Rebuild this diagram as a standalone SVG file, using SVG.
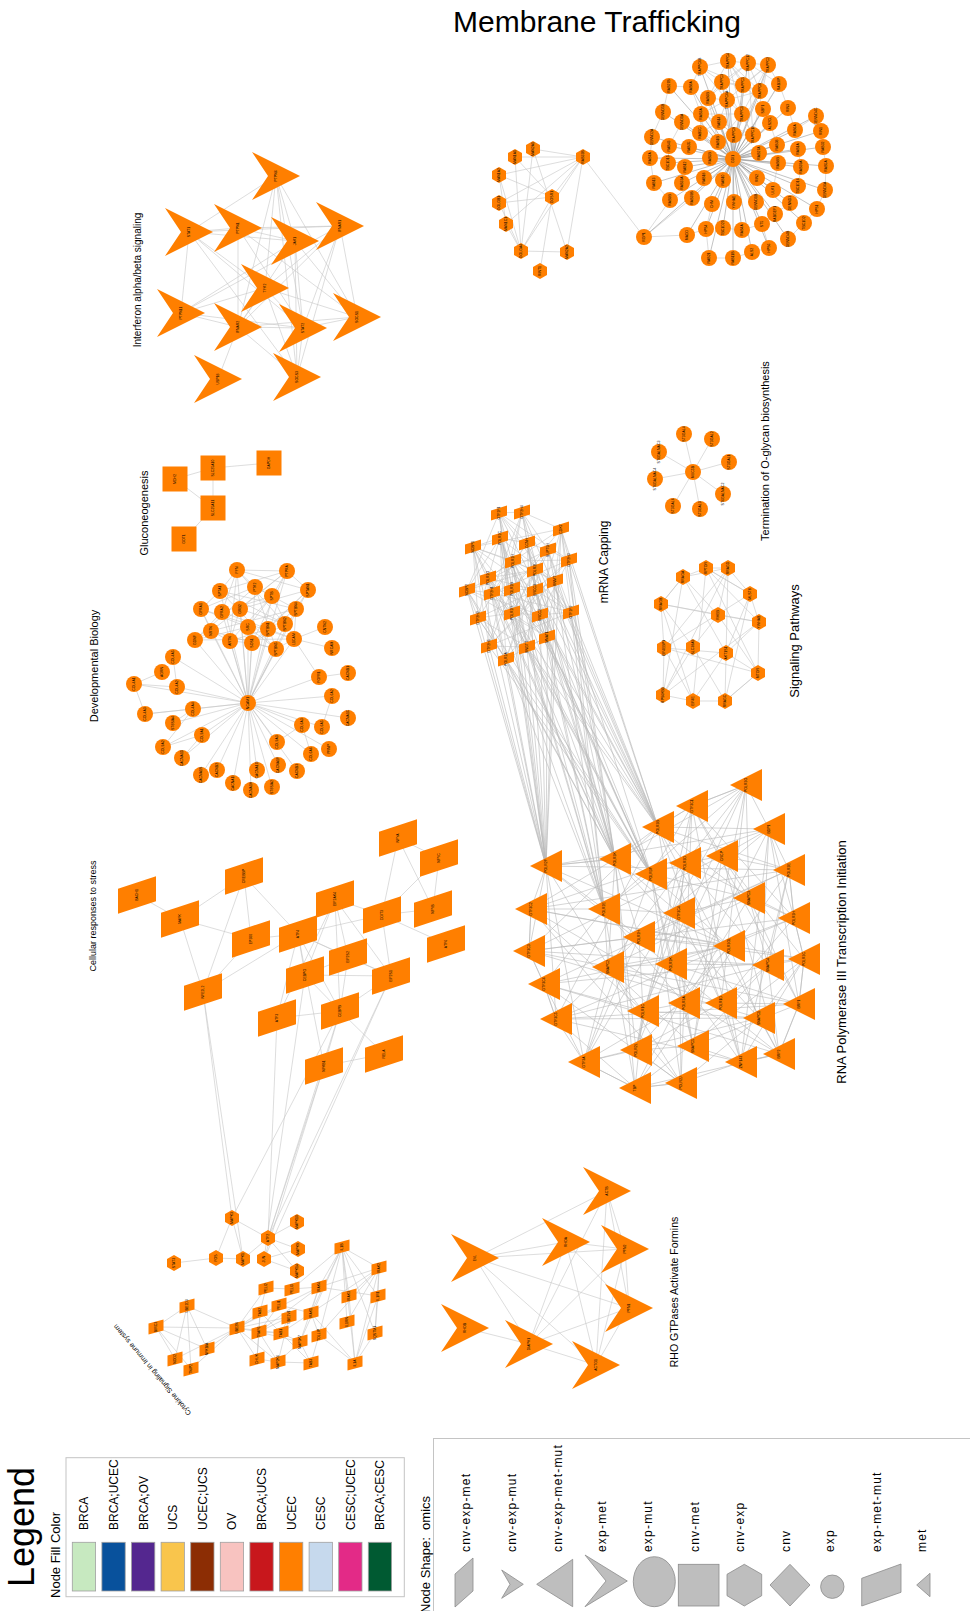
<svg xmlns="http://www.w3.org/2000/svg" width="970" height="1611" viewBox="0 0 970 1611">
<style>
text{font-family:'Liberation Sans',Arial,Helvetica,sans-serif;fill:#000}
.e path{fill:none;stroke:#c6c6c6;stroke-width:0.6}
.e path.d{stroke:#9a9a9a}
.e path.m{stroke:#b8b8b8}
.nd use{fill:#ff7f00}
.nd text{font-size:3.5px;text-anchor:middle;dominant-baseline:central;transform:rotate(-90deg)}
.ttl{text-anchor:middle}
.sh{fill:#bebebe;stroke:#8c8c8c;stroke-width:0.8}
.sl{font-size:12px;letter-spacing:1.2px}
.cl{font-size:12px}
.sw{stroke:#a0a0a0;stroke-width:0.8}
</style>
<defs>
<path id="chev" d="M-24,-24L24,0L-24,24L-8,0Z"/>
<path id="tri" d="M-16,0L16,-16L16,16Z"/>
<path id="hex" d="M0,-8L7,-4L7,4L0,8L-7,4L-7,-4Z"/>
<circle id="cir" r="8"/>
<path id="pgs" d="M-8,-2.5L8,-7.5L8,2.5L-8,7.5Z"/>
<path id="pgl" d="M-19,-6.3L19,-18.7L19,6.3L-19,18.7Z"/>
<path id="pgc" d="M-7.5,-3.5L7.5,-7.5L7.5,3.5L-7.5,7.5Z"/>
<rect id="sq" x="-12.5" y="-12.5" width="25" height="25"/>
</defs>

<text class="ttl" x="597" y="32" font-size="30">Membrane Trafficking</text>

<g id="connectors" class="e">
<path id="e-ifn" d="M276 176L189 232M276 176L295 241M276 176L265 288M276 176L238 327M276 176L303 328M276 176L297 377M276 176L357 317M189 232L238 228M189 232L340 226M189 232L295 241M189 232L181 313M189 232L303 328M189 232L297 377M189 232L265 288M238 228L295 241M238 228L340 226M238 228L238 327M238 228L303 328M238 228L357 317M340 226L265 288M340 226L181 313M340 226L303 328M340 226L297 377M340 226L357 317M340 226L238 327M295 241L238 327M295 241L303 328M295 241L357 317M295 241L181 313M295 241L297 377M265 288L181 313M265 288L303 328M265 288L297 377M265 288L238 327M265 288L357 317M181 313L238 327M181 313L303 328M238 327L303 328M238 327L218 379M238 327L297 377M238 327L357 317M303 328L357 317M303 328L297 377"/>
<path id="e-glu" d="M175 479L213 468L269 463M175 479L213 508L213 468M213 508L184 539"/>
<path id="e-ter" d="M693 472L684 434M693 472L712 439M693 472L729 462M693 472L723 494M693 472L700 509M693 472L673 506M693 472L655 479M693 472L659 452"/>
<path id="e-memhex" d="M583 157L533 149M583 157L515 157M583 157L499 175M583 157L552 197M583 157L499 203M583 157L506 224M583 157L521 251M583 157L567 252M583 157L644 237M533 149L521 251M533 149L567 252M515 157L521 251M515 157L552 197M499 175L552 197M499 175L506 224M552 197L499 203M552 197L521 251M552 197L540 271M499 203L521 251M506 224L521 251M521 251L567 252M499 175L521 251M644 237L687 235M644 237L670 200M644 237L692 198"/>
<path id="e-memhub" class="d" d="M700 67L733 159L728 61M748 63L733 159L768 65M669 86L733 159L691 87M722 82L733 159L743 85M779 84L733 159L708 98M727 100L733 159L760 91M663 112L733 159L682 122M701 114L733 159L719 122M742 114L733 159L763 109M788 108L733 159L816 116M652 137L733 159L700 133M718 142L733 159L734 135M753 135L733 159L770 123M795 130L733 159L821 131M650 158L733 159L669 146M689 147L733 159L710 158M759 153L733 159L777 145M798 149L733 159L823 147M668 163L733 159L685 167M654 183L733 159L682 183M704 178L733 159L723 180M757 178L733 159L778 163M801 167L733 159L826 166M670 200L733 159L692 198M712 204L733 159L734 202M756 202L733 159L773 190M798 186L733 159L825 190M790 203L733 159L775 214M817 209L733 159L804 223M687 235L733 159L706 229M723 228L733 159L742 230M762 224L733 159L788 239M769 248L733 159L752 252M733 258L733 159L709 258M644 237L733 159"/>
<path id="e-memmesh" d="M700 67L728 61L748 63L768 65L760 91L743 85L722 82L708 98L727 100L742 114L753 135L734 135L719 122L701 114L700 133L718 142M700 67L722 82L748 63L760 91L727 100L719 122L734 135L742 114L743 85L728 61L708 98L700 133L719 122L753 135L768 65L743 85M700 67L727 100L768 65L742 114L728 61L760 91L734 135L722 82L753 135L748 63L708 98L718 142L742 114L701 114L727 100M669 86L691 87L700 67M691 87L701 114M669 86L663 112L652 137L650 158L654 183L670 200M682 122L669 146L668 163L685 167M779 84L788 108L795 130M779 84L763 109L770 123L777 145M816 116L821 131L823 147L826 166L825 190L817 209L804 223L788 239M816 116L795 130M798 149L801 167L798 186M778 163L773 190M790 203L775 214L762 224L769 248L752 252L733 258L709 258L706 229L687 235M723 228L742 230L762 224M712 204L706 229M748 63L779 84M768 65L779 84M728 61L763 109M700 67L743 85M722 82L760 91"/>
<path id="e-dev" d="M237 570L248 703L287 571M255 587L248 703L272 596M308 590L248 703L220 591M201 609L248 703L222 612M240 609L248 703L296 609M248 627L248 703L268 629M285 624L248 703L211 631M195 640L248 703L230 641M252 643L248 703L276 649M294 639L248 703L173 657M134 684L248 703L177 687M319 677L248 703L332 696M145 714L248 703L193 709M173 723L248 703L202 735M302 725L248 703L322 727M348 718L248 703L163 747M277 742L248 703L182 758M311 754L248 703L329 749M201 775L248 703L217 770M233 783L248 703L251 790M257 770L248 703L272 787M278 765L248 703L297 771M237 570L308 590L240 609L285 624L252 643L287 571L220 591L296 609L211 631L276 649L255 587L201 609L248 627L195 640L294 639L272 596L222 612L268 629L230 641L237 570M237 570L222 612L195 640L255 587L296 609L252 643L308 590L268 629L294 639L201 609L211 631L287 571L240 609L230 641L272 596L248 627L276 649L220 591L285 624L237 570M237 570L287 571L308 590L296 609L294 639L276 649L252 643L230 641L211 631L195 640M201 609L220 591L237 570L255 587L272 596L287 571M325 627L294 639M332 648L294 639M294 639L319 677M319 677L348 673M332 696L322 727M302 725L311 754M302 725L277 742M134 684L162 672M134 684L177 687M173 657L177 687M134 684L145 714M145 714L193 709M193 709L173 723M202 735L163 747M182 758L202 735M163 747L193 709"/>
<path id="e-mrna" d="M499 513L527 543L535 570L555 581L489 646L522 512L548 550L467 590L478 618L527 647L561 529L569 560L492 593L512 613L547 637L473 547L513 561L512 589L540 615L506 659L500 538L488 578L535 590L571 612L499 513M499 513L569 560L535 590L527 647L500 538L467 590L540 615L522 512L513 561L555 581L547 637L527 543L492 593L571 612L561 529L488 578L478 618L506 659L548 550L512 589L489 646L473 547L535 570L512 613L499 513M499 513L467 590L547 637L488 578L489 646L569 560L540 615L527 543L478 618L473 547L535 590L522 512L492 593L506 659L535 570L527 647L513 561L571 612L548 550L512 613L500 538L555 581L561 529L512 589L499 513M499 513L522 512L561 529L473 547L500 538L527 543L548 550L569 560L513 561L488 578L535 570L467 590L492 593L512 589L535 590L555 581L478 618L512 613L540 615L571 612L489 646L527 647L547 637L506 659"/>
<path id="e-mrna-pol3" class="m" d="M499 513L546 866L561 529M473 547L546 866L527 543M513 561L546 866L488 578M467 590L546 866L512 589M555 581L546 866L478 618M540 615L546 866L489 646M527 647L546 866L506 659M522 512L615 859L561 529M500 538L615 859L548 550M569 560L615 859L535 570M492 593L615 859L535 590M512 613L615 859L571 612M547 637L615 859L506 659M499 513L658 827L522 512M561 529L658 827L527 543M569 560L658 827L535 570M512 589L658 827L555 581M540 615L658 827L571 612M527 647L658 827M473 547L651 874L500 538M548 550L651 874L513 561M488 578L651 874L467 590M535 590L651 874L478 618M512 613L651 874L489 646M547 637L651 874M499 513L604 909L527 543M569 560L604 909L492 593M512 589L604 909L555 581M540 615L604 909L571 612M527 647L604 909L506 659M473 547L615 859L467 590M513 561L658 827L488 578M500 538L546 866L548 550"/>
<path id="e-sig" d="M683 577L661 604L759 622L726 653L693 701L706 568L750 594L664 648L758 673L725 701L728 568L718 615L693 647L663 695L683 577M683 577L718 615L758 673L706 568L759 622L663 695L728 568L664 648L693 701L661 604L693 647L725 701L750 594L726 653L683 577M683 577L706 568L728 568L750 594L759 622L758 673L725 701L693 701L663 695L664 648L661 604L683 577M683 577L728 568M706 568L750 594M661 604L718 615L759 622M664 648L726 653L758 673"/>
<path id="e-stress" d="M137 895L180 919L244 876M180 919L251 939M180 919L203 992M244 876L251 939M244 876L298 934M244 876L203 992M251 939L298 934M251 939L203 992M298 934L203 992M298 934L382 915M298 934L305 975M298 934L340 1011M298 934L277 1018M298 934L348 957M298 934L391 976M298 934L324 1066M335 899L382 915M335 899L348 957M335 899L391 976M335 899L305 975M335 899L340 1011M335 899L277 1018M382 915L398 838M382 915L433 909M382 915L439 858M382 915L446 944M382 915L391 976M398 838L439 858M398 838L433 909M439 858L433 909M305 975L348 957M305 975L340 1011M305 975L391 976M340 1011L277 1018M340 1011L391 976M340 1011L384 1054M340 1011L324 1066M324 1066L384 1054M348 957L391 976M348 957L340 1011"/>
<path id="e-stress-cyto" d="M203 992L232 1218M203 992L243 1259M340 1011L232 1218M277 1018L268 1238M305 975L264 1259M340 1011L268 1238M324 1066L268 1238M324 1066L264 1259M391 976L268 1238M391 976L264 1259"/>
<path id="e-pol3" class="m" d="M746 785L615 859L531 909L529 951L768 965L721 1003L636 1050L681 1083L546 866L789 870L794 918L671 964L684 1003L584 1062L635 1088L769 829L722 856L749 898L608 967L643 1011L759 1018L779 1054L658 827L685 863L679 913L729 946L544 984L556 1019L741 1062L692 806L651 874L604 909L639 937L804 959L799 1004L693 1046L746 785M746 785L685 863L794 918L804 959L759 1018L681 1083L651 874L749 898L768 965L556 1019L635 1088L615 859L679 913L671 964L799 1004L779 1054L546 866L604 909L608 967L721 1003L741 1062L769 829L531 909L729 946L684 1003L693 1046L658 827L789 870L639 937L643 1011L636 1050L692 806L722 856L529 951L544 984L584 1062L746 785M746 785L604 909L544 984L779 1054L722 856L671 964L636 1050L615 859L639 937L556 1019L658 827L749 898L684 1003L681 1083L531 909L804 959L741 1062L685 863L608 967L584 1062L546 866L529 951L799 1004L692 806L679 913L643 1011L635 1088L789 870L768 965L693 1046L651 874L729 946L759 1018L769 829L794 918L721 1003L746 785M746 785L749 898L799 1004L769 829L639 937L584 1062L651 874L671 964L741 1062L789 870L544 984L681 1083L679 913L721 1003L658 827L529 951L759 1018L615 859L608 967L693 1046L722 856L804 959L635 1088L604 909L684 1003L692 806L794 918L556 1019L546 866L729 946L636 1050L685 863L768 965L779 1054L531 909L643 1011L746 785M746 785L692 806L658 827L769 829L546 866L615 859L651 874L685 863L722 856L789 870L531 909L604 909L679 913L749 898L794 918L529 951L639 937L729 946L608 967L671 964L768 965L804 959L544 984L643 1011L684 1003L721 1003L799 1004L556 1019L759 1018L584 1062L636 1050L693 1046L741 1062L779 1054L635 1088L681 1083M746 785L769 829L789 870L794 918L804 959L799 1004L779 1054L741 1062L681 1083L635 1088L584 1062L556 1019L544 984L529 951L531 909L546 866L615 859L658 827L692 806L746 785"/>
<path id="e-cyto" d="M187 1306L156 1327L175 1359M187 1306L175 1359M187 1306L191 1369M187 1306L207 1349M187 1306L237 1328M156 1327L191 1369M156 1327L207 1349M156 1327L237 1328M207 1349L237 1328M175 1359L237 1328M191 1369L237 1328M237 1328L260 1312M237 1328L259 1332M237 1328L266 1288M237 1328L279 1305M237 1328L257 1359M237 1328L319 1287M237 1328L281 1333M237 1328L278 1362M237 1328L289 1317M342 1247L319 1287M342 1247L311 1313M342 1247L349 1296M342 1247L378 1296M342 1247L347 1322M342 1247L379 1268M342 1247L355 1363M342 1247L375 1333M342 1247L319 1335M342 1247L300 1342M342 1247L292 1289M379 1268L349 1296M379 1268L378 1296M379 1268L375 1333M379 1268L355 1363M379 1268L347 1322M379 1268L319 1287M379 1268L319 1335M379 1268L311 1313M378 1296L375 1333M378 1296L355 1363M378 1296L319 1287M355 1363L349 1296M355 1363L311 1313M355 1363L319 1335M355 1363L375 1333M266 1288L292 1289L319 1287M266 1288L260 1312M279 1305L311 1313M260 1312L281 1333M260 1312L259 1332M259 1332L281 1333M259 1332L300 1342M259 1332L257 1359M259 1332L278 1362M281 1333L300 1342M281 1333L311 1363M300 1342L311 1363M300 1342L278 1362M257 1359L278 1362M278 1362L311 1363M319 1287L311 1313M311 1313L319 1335M311 1313L281 1333M319 1335L311 1363M319 1287L259 1332M279 1305L259 1332M289 1317L259 1332M289 1317L281 1333M289 1317L278 1362M257 1359L260 1312M319 1287L300 1342M232 1218L268 1238M232 1218L216 1258M232 1218L243 1259M268 1238L297 1222M268 1238L298 1249M268 1238L297 1271M268 1238L243 1259M264 1259L298 1249M264 1259L297 1271M174 1263L216 1258L243 1259"/>
<path id="e-rho" d="M475 1258L607 1191M475 1258L566 1242M475 1258L625 1249M475 1258L629 1308M475 1258L529 1344M475 1258L596 1365M566 1242L625 1249M566 1242L529 1344M566 1242L596 1365M566 1242L629 1308M607 1191L625 1249M607 1191L629 1308M607 1191L529 1344M607 1191L596 1365M625 1249L629 1308M625 1249L529 1344M625 1249L596 1365M629 1308L529 1344M629 1308L596 1365M465 1328L529 1344L596 1365"/>
</g>

<g id="cluster-interferon" class="nd">
<g id="ifn-PTPN6" transform="translate(276,176)"><use href="#chev"/><text>PTPN6</text></g>
<g id="ifn-STAT1" transform="translate(189,232)"><use href="#chev"/><text>STAT1</text></g>
<g id="ifn-PTPN1" transform="translate(238,228)"><use href="#chev"/><text>PTPN1</text></g>
<g id="ifn-IFNAR1" transform="translate(340,226)"><use href="#chev"/><text>IFNAR1</text></g>
<g id="ifn-JAK1" transform="translate(295,241)"><use href="#chev"/><text>JAK1</text></g>
<g id="ifn-TYK2" transform="translate(265,288)"><use href="#chev"/><text>TYK2</text></g>
<g id="ifn-PTPN11" transform="translate(181,313)"><use href="#chev"/><text>PTPN11</text></g>
<g id="ifn-IFNAR2" transform="translate(238,327)"><use href="#chev"/><text>IFNAR2</text></g>
<g id="ifn-STAT2" transform="translate(303,328)"><use href="#chev"/><text>STAT2</text></g>
<g id="ifn-SOCS1" transform="translate(357,317)"><use href="#chev"/><text>SOCS1</text></g>
<g id="ifn-USP18" transform="translate(218,379)"><use href="#chev"/><text>USP18</text></g>
<g id="ifn-SOCS3" transform="translate(297,377)"><use href="#chev"/><text>SOCS3</text></g>
</g>

<g id="cluster-gluconeogenesis" class="nd">
<g id="glu-MDH2" transform="translate(175,479)"><use href="#sq"/><text>MDH2</text></g>
<g id="glu-SLC25A10" transform="translate(213,468)"><use href="#sq"/><text>SLC25A10</text></g>
<g id="glu-GAPDH" transform="translate(269,463)"><use href="#sq"/><text>GAPDH</text></g>
<g id="glu-SLC25A11" transform="translate(213,508)"><use href="#sq"/><text>SLC25A11</text></g>
<g id="glu-GOT1" transform="translate(184,539)"><use href="#sq"/><text>GOT1</text></g>
</g>

<g id="cluster-termination" class="nd">
<g id="ter-MUC5B" transform="translate(693,472)"><use href="#cir"/><text>MUC5B</text></g>
<g id="ter-ST3GAL4" transform="translate(684,434)"><use href="#cir"/><text>ST3GAL4</text></g>
<g id="ter-ST3GAL2" transform="translate(712,439)"><use href="#cir"/><text>ST3GAL2</text></g>
<g id="ter-ST3GAL1" transform="translate(729,462)"><use href="#cir"/><text>ST3GAL1</text></g>
<g id="ter-ST6GALNAC2" transform="translate(723,494)"><use href="#cir"/><text>ST6GALNAC2</text></g>
<g id="ter-ST3GAL3" transform="translate(700,509)"><use href="#cir"/><text>ST3GAL3</text></g>
<g id="ter-ST3GAL6" transform="translate(673,506)"><use href="#cir"/><text>ST3GAL6</text></g>
<g id="ter-ST6GALNAC4" transform="translate(655,479)"><use href="#cir"/><text>ST6GALNAC4</text></g>
<g id="ter-ST6GALNAC3" transform="translate(659,452)"><use href="#cir"/><text>ST6GALNAC3</text></g>
</g>

<g id="cluster-membrane" class="nd">
<g id="mem-RAB33B" transform="translate(583,157)"><use href="#hex"/><text>RAB33B</text></g>
<g id="mem-MAN2A1" transform="translate(533,149)"><use href="#hex"/><text>MAN2A1</text></g>
<g id="mem-MAN1A1" transform="translate(515,157)"><use href="#hex"/><text>MAN1A1</text></g>
<g id="mem-MAN1A2" transform="translate(499,175)"><use href="#hex"/><text>MAN1A2</text></g>
<g id="mem-GOSR1" transform="translate(552,197)"><use href="#hex"/><text>GOSR1</text></g>
<g id="mem-GOLGB1" transform="translate(499,203)"><use href="#hex"/><text>GOLGB1</text></g>
<g id="mem-MAN1C1" transform="translate(506,224)"><use href="#hex"/><text>MAN1C1</text></g>
<g id="mem-GOLGA4" transform="translate(521,251)"><use href="#hex"/><text>GOLGA4</text></g>
<g id="mem-MAN2A2" transform="translate(567,252)"><use href="#hex"/><text>MAN2A2</text></g>
<g id="mem-RINT1" transform="translate(540,271)"><use href="#hex"/><text>RINT1</text></g>
<g id="mem-TRAPPC6B" transform="translate(700,67)"><use href="#cir"/><text>TRAPPC6B</text></g>
<g id="mem-TRAPPC4" transform="translate(728,61)"><use href="#cir"/><text>TRAPPC4</text></g>
<g id="mem-TRAPPC12" transform="translate(748,63)"><use href="#cir"/><text>TRAPPC12</text></g>
<g id="mem-TRAPPC2" transform="translate(768,65)"><use href="#cir"/><text>TRAPPC2</text></g>
<g id="mem-RAB27B" transform="translate(669,86)"><use href="#cir"/><text>RAB27B</text></g>
<g id="mem-RAB8A" transform="translate(691,87)"><use href="#cir"/><text>RAB8A</text></g>
<g id="mem-TRAPPC3" transform="translate(722,82)"><use href="#cir"/><text>TRAPPC3</text></g>
<g id="mem-TRAPPC5" transform="translate(743,85)"><use href="#cir"/><text>TRAPPC5</text></g>
<g id="mem-RAB3IP" transform="translate(779,84)"><use href="#cir"/><text>RAB3IP</text></g>
<g id="mem-RAB6B" transform="translate(708,98)"><use href="#cir"/><text>RAB6B</text></g>
<g id="mem-TRAPPC6A" transform="translate(727,100)"><use href="#cir"/><text>TRAPPC6A</text></g>
<g id="mem-TRAPPC8" transform="translate(760,91)"><use href="#cir"/><text>TRAPPC8</text></g>
<g id="mem-DENND5B" transform="translate(663,112)"><use href="#cir"/><text>DENND5B</text></g>
<g id="mem-DENND1A" transform="translate(682,122)"><use href="#cir"/><text>DENND1A</text></g>
<g id="mem-RAB3A" transform="translate(701,114)"><use href="#cir"/><text>RAB3A</text></g>
<g id="mem-RAB14" transform="translate(719,122)"><use href="#cir"/><text>RAB14</text></g>
<g id="mem-TRAPPC1" transform="translate(742,114)"><use href="#cir"/><text>TRAPPC1</text></g>
<g id="mem-SBF1" transform="translate(763,109)"><use href="#cir"/><text>SBF1</text></g>
<g id="mem-RIN3" transform="translate(788,108)"><use href="#cir"/><text>RIN3</text></g>
<g id="mem-DENND4C" transform="translate(816,116)"><use href="#cir"/><text>DENND4C</text></g>
<g id="mem-DENND2A" transform="translate(652,137)"><use href="#cir"/><text>DENND2A</text></g>
<g id="mem-RAB5C" transform="translate(700,133)"><use href="#cir"/><text>RAB5C</text></g>
<g id="mem-RAB1B" transform="translate(718,142)"><use href="#cir"/><text>RAB1B</text></g>
<g id="mem-TRAPPC9" transform="translate(734,135)"><use href="#cir"/><text>TRAPPC9</text></g>
<g id="mem-TRAPPC10" transform="translate(753,135)"><use href="#cir"/><text>TRAPPC10</text></g>
<g id="mem-ALS2CL" transform="translate(770,123)"><use href="#cir"/><text>ALS2CL</text></g>
<g id="mem-RAB6A" transform="translate(795,130)"><use href="#cir"/><text>RAB6A</text></g>
<g id="mem-RIN1" transform="translate(821,131)"><use href="#cir"/><text>RIN1</text></g>
<g id="mem-RAB7A" transform="translate(650,158)"><use href="#cir"/><text>RAB7A</text></g>
<g id="mem-RAB43" transform="translate(669,146)"><use href="#cir"/><text>RAB43</text></g>
<g id="mem-RAB35" transform="translate(689,147)"><use href="#cir"/><text>RAB35</text></g>
<g id="mem-RAB5B" transform="translate(710,158)"><use href="#cir"/><text>RAB5B</text></g>
<g id="mem-GDI1" transform="translate(733,159)"><use href="#cir"/><text>GDI1</text></g>
<g id="mem-RAB27A" transform="translate(759,153)"><use href="#cir"/><text>RAB27A</text></g>
<g id="mem-RAB38" transform="translate(777,145)"><use href="#cir"/><text>RAB38</text></g>
<g id="mem-RAB1A" transform="translate(798,149)"><use href="#cir"/><text>RAB1A</text></g>
<g id="mem-RAB32" transform="translate(823,147)"><use href="#cir"/><text>RAB32</text></g>
<g id="mem-TBC1D15" transform="translate(668,163)"><use href="#cir"/><text>TBC1D15</text></g>
<g id="mem-RAB12" transform="translate(685,167)"><use href="#cir"/><text>RAB12</text></g>
<g id="mem-RAB13" transform="translate(654,183)"><use href="#cir"/><text>RAB13</text></g>
<g id="mem-RAB33A" transform="translate(682,183)"><use href="#cir"/><text>RAB33A</text></g>
<g id="mem-RAB18" transform="translate(704,178)"><use href="#cir"/><text>RAB18</text></g>
<g id="mem-RAB10" transform="translate(723,180)"><use href="#cir"/><text>RAB10</text></g>
<g id="mem-RIN2" transform="translate(757,178)"><use href="#cir"/><text>RIN2</text></g>
<g id="mem-RAB8B" transform="translate(778,163)"><use href="#cir"/><text>RAB8B</text></g>
<g id="mem-RAB39A" transform="translate(801,167)"><use href="#cir"/><text>RAB39A</text></g>
<g id="mem-RAB5A" transform="translate(826,166)"><use href="#cir"/><text>RAB5A</text></g>
<g id="mem-RAB9B" transform="translate(670,200)"><use href="#cir"/><text>RAB9B</text></g>
<g id="mem-RAB39B" transform="translate(692,198)"><use href="#cir"/><text>RAB39B</text></g>
<g id="mem-CHM" transform="translate(712,204)"><use href="#cir"/><text>CHM</text></g>
<g id="mem-YWHAE" transform="translate(734,202)"><use href="#cir"/><text>YWHAE</text></g>
<g id="mem-DENND1B" transform="translate(756,202)"><use href="#cir"/><text>DENND1B</text></g>
<g id="mem-ULK1" transform="translate(773,190)"><use href="#cir"/><text>ULK1</text></g>
<g id="mem-TBC1D16" transform="translate(798,186)"><use href="#cir"/><text>TBC1D16</text></g>
<g id="mem-DENND6A" transform="translate(825,190)"><use href="#cir"/><text>DENND6A</text></g>
<g id="mem-DENND3" transform="translate(790,203)"><use href="#cir"/><text>DENND3</text></g>
<g id="mem-RABGEF1" transform="translate(775,214)"><use href="#cir"/><text>RABGEF1</text></g>
<g id="mem-HPS1" transform="translate(817,209)"><use href="#cir"/><text>HPS1</text></g>
<g id="mem-TBC1D2" transform="translate(804,223)"><use href="#cir"/><text>TBC1D2</text></g>
<g id="mem-MADD" transform="translate(687,235)"><use href="#cir"/><text>MADD</text></g>
<g id="mem-HPS4" transform="translate(706,229)"><use href="#cir"/><text>HPS4</text></g>
<g id="mem-TBC1D20" transform="translate(723,228)"><use href="#cir"/><text>TBC1D20</text></g>
<g id="mem-RAB4A" transform="translate(742,230)"><use href="#cir"/><text>RAB4A</text></g>
<g id="mem-ST5" transform="translate(762,224)"><use href="#cir"/><text>ST5</text></g>
<g id="mem-DENND4B" transform="translate(788,239)"><use href="#cir"/><text>DENND4B</text></g>
<g id="mem-HPS6" transform="translate(769,248)"><use href="#cir"/><text>HPS6</text></g>
<g id="mem-ALS2" transform="translate(752,252)"><use href="#cir"/><text>ALS2</text></g>
<g id="mem-RAB11B" transform="translate(733,258)"><use href="#cir"/><text>RAB11B</text></g>
<g id="mem-RAB21" transform="translate(709,258)"><use href="#cir"/><text>RAB21</text></g>
<g id="mem-RGP1" transform="translate(644,237)"><use href="#cir"/><text>RGP1</text></g>
</g>

<g id="cluster-developmental" class="nd">
<g id="dev-FYN" transform="translate(237,570)"><use href="#cir"/><text>FYN</text></g>
<g id="dev-PTPRA" transform="translate(287,571)"><use href="#cir"/><text>PTPRA</text></g>
<g id="dev-PTK2" transform="translate(255,587)"><use href="#cir"/><text>PTK2</text></g>
<g id="dev-SPTB" transform="translate(272,596)"><use href="#cir"/><text>SPTB</text></g>
<g id="dev-SPTAN1" transform="translate(308,590)"><use href="#cir"/><text>SPTAN1</text></g>
<g id="dev-SPTA1" transform="translate(220,591)"><use href="#cir"/><text>SPTA1</text></g>
<g id="dev-GFRA1" transform="translate(201,609)"><use href="#cir"/><text>GFRA1</text></g>
<g id="dev-GFRA2" transform="translate(222,612)"><use href="#cir"/><text>GFRA2</text></g>
<g id="dev-GRB2" transform="translate(240,609)"><use href="#cir"/><text>GRB2</text></g>
<g id="dev-SPTBN4" transform="translate(296,609)"><use href="#cir"/><text>SPTBN4</text></g>
<g id="dev-SRC" transform="translate(248,627)"><use href="#cir"/><text>SRC</text></g>
<g id="dev-SPTBN1" transform="translate(268,629)"><use href="#cir"/><text>SPTBN1</text></g>
<g id="dev-SPTBN2" transform="translate(285,624)"><use href="#cir"/><text>SPTBN2</text></g>
<g id="dev-CNTN2" transform="translate(325,627)"><use href="#cir"/><text>CNTN2</text></g>
<g id="dev-NRTN" transform="translate(211,631)"><use href="#cir"/><text>NRTN</text></g>
<g id="dev-GDNF" transform="translate(195,640)"><use href="#cir"/><text>GDNF</text></g>
<g id="dev-ARTN" transform="translate(230,641)"><use href="#cir"/><text>ARTN</text></g>
<g id="dev-SOS1" transform="translate(252,643)"><use href="#cir"/><text>SOS1</text></g>
<g id="dev-SPTBN5" transform="translate(276,649)"><use href="#cir"/><text>SPTBN5</text></g>
<g id="dev-L1CAM" transform="translate(294,639)"><use href="#cir"/><text>L1CAM</text></g>
<g id="dev-NRCAM" transform="translate(332,648)"><use href="#cir"/><text>NRCAM</text></g>
<g id="dev-COL4A5" transform="translate(173,657)"><use href="#cir"/><text>COL4A5</text></g>
<g id="dev-AGRN" transform="translate(162,672)"><use href="#cir"/><text>AGRN</text></g>
<g id="dev-COL4A1" transform="translate(134,684)"><use href="#cir"/><text>COL4A1</text></g>
<g id="dev-COL4A2" transform="translate(177,687)"><use href="#cir"/><text>COL4A2</text></g>
<g id="dev-NCAM1" transform="translate(248,703)"><use href="#cir"/><text>NCAM1</text></g>
<g id="dev-FGFR1" transform="translate(319,677)"><use href="#cir"/><text>FGFR1</text></g>
<g id="dev-CACNB1" transform="translate(348,673)"><use href="#cir"/><text>CACNB1</text></g>
<g id="dev-COL6A2" transform="translate(332,696)"><use href="#cir"/><text>COL6A2</text></g>
<g id="dev-COL4A3" transform="translate(145,714)"><use href="#cir"/><text>COL4A3</text></g>
<g id="dev-COL4A4" transform="translate(193,709)"><use href="#cir"/><text>COL4A4</text></g>
<g id="dev-ST8SIA4" transform="translate(173,723)"><use href="#cir"/><text>ST8SIA4</text></g>
<g id="dev-COL9A1" transform="translate(202,735)"><use href="#cir"/><text>COL9A1</text></g>
<g id="dev-COL6A3" transform="translate(302,725)"><use href="#cir"/><text>COL6A3</text></g>
<g id="dev-COL6A5" transform="translate(322,727)"><use href="#cir"/><text>COL6A5</text></g>
<g id="dev-CACNA1C" transform="translate(348,718)"><use href="#cir"/><text>CACNA1C</text></g>
<g id="dev-COL9A2" transform="translate(163,747)"><use href="#cir"/><text>COL9A2</text></g>
<g id="dev-COL9A3" transform="translate(277,742)"><use href="#cir"/><text>COL9A3</text></g>
<g id="dev-CACNA1D" transform="translate(182,758)"><use href="#cir"/><text>CACNA1D</text></g>
<g id="dev-COL6A6" transform="translate(311,754)"><use href="#cir"/><text>COL6A6</text></g>
<g id="dev-PRNP" transform="translate(329,749)"><use href="#cir"/><text>PRNP</text></g>
<g id="dev-CACNA1S" transform="translate(201,775)"><use href="#cir"/><text>CACNA1S</text></g>
<g id="dev-CACNB2" transform="translate(217,770)"><use href="#cir"/><text>CACNB2</text></g>
<g id="dev-CACNA1I" transform="translate(233,783)"><use href="#cir"/><text>CACNA1I</text></g>
<g id="dev-CACNA1H" transform="translate(251,790)"><use href="#cir"/><text>CACNA1H</text></g>
<g id="dev-CACNA1G" transform="translate(257,770)"><use href="#cir"/><text>CACNA1G</text></g>
<g id="dev-ST8SIA2" transform="translate(272,787)"><use href="#cir"/><text>ST8SIA2</text></g>
<g id="dev-CACNA1F" transform="translate(278,765)"><use href="#cir"/><text>CACNA1F</text></g>
<g id="dev-CACNB3" transform="translate(297,771)"><use href="#cir"/><text>CACNB3</text></g>
</g>

<g id="cluster-mrna" class="nd">
<g id="mc-GTF2F1" transform="translate(499,513)"><use href="#pgs"/><text>GTF2F1</text></g>
<g id="mc-GTF2H4" transform="translate(522,512)"><use href="#pgs"/><text>GTF2H4</text></g>
<g id="mc-CDK7" transform="translate(561,529)"><use href="#pgs"/><text>CDK7</text></g>
<g id="mc-NCBP1" transform="translate(473,547)"><use href="#pgs"/><text>NCBP1</text></g>
<g id="mc-POLR2C" transform="translate(500,538)"><use href="#pgs"/><text>POLR2C</text></g>
<g id="mc-CCNH" transform="translate(527,543)"><use href="#pgs"/><text>CCNH</text></g>
<g id="mc-SUPT5H" transform="translate(548,550)"><use href="#pgs"/><text>SUPT5H</text></g>
<g id="mc-GTF2H3" transform="translate(569,560)"><use href="#pgs"/><text>GTF2H3</text></g>
<g id="mc-POLR2H" transform="translate(513,561)"><use href="#pgs"/><text>POLR2H</text></g>
<g id="mc-POLR2G" transform="translate(488,578)"><use href="#pgs"/><text>POLR2G</text></g>
<g id="mc-POLR2I" transform="translate(535,570)"><use href="#pgs"/><text>POLR2I</text></g>
<g id="mc-NCBP2" transform="translate(467,590)"><use href="#pgs"/><text>NCBP2</text></g>
<g id="mc-GTF2H1" transform="translate(492,593)"><use href="#pgs"/><text>GTF2H1</text></g>
<g id="mc-POLR2B" transform="translate(512,589)"><use href="#pgs"/><text>POLR2B</text></g>
<g id="mc-ERCC3" transform="translate(535,590)"><use href="#pgs"/><text>ERCC3</text></g>
<g id="mc-RNMT" transform="translate(555,581)"><use href="#pgs"/><text>RNMT</text></g>
<g id="mc-GTF2H2" transform="translate(478,618)"><use href="#pgs"/><text>GTF2H2</text></g>
<g id="mc-POLR2D" transform="translate(512,613)"><use href="#pgs"/><text>POLR2D</text></g>
<g id="mc-ERCC2" transform="translate(540,615)"><use href="#pgs"/><text>ERCC2</text></g>
<g id="mc-GTF2F2" transform="translate(571,612)"><use href="#pgs"/><text>GTF2F2</text></g>
<g id="mc-GTF2H5" transform="translate(489,646)"><use href="#pgs"/><text>GTF2H5</text></g>
<g id="mc-RNGTT" transform="translate(527,647)"><use href="#pgs"/><text>RNGTT</text></g>
<g id="mc-MNAT1" transform="translate(547,637)"><use href="#pgs"/><text>MNAT1</text></g>
<g id="mc-POLR2A" transform="translate(506,659)"><use href="#pgs"/><text>POLR2A</text></g>
</g>

<g id="cluster-signaling" class="nd">
<g id="sig-RRAGA" transform="translate(683,577)"><use href="#hex"/><text>RRAGA</text></g>
<g id="sig-RPTOR" transform="translate(706,568)"><use href="#hex"/><text>RPTOR</text></g>
<g id="sig-RRAGD" transform="translate(728,568)"><use href="#hex"/><text>RRAGD</text></g>
<g id="sig-RRAGB" transform="translate(661,604)"><use href="#hex"/><text>RRAGB</text></g>
<g id="sig-MLST8" transform="translate(750,594)"><use href="#hex"/><text>MLST8</text></g>
<g id="sig-RHEB" transform="translate(718,615)"><use href="#hex"/><text>RHEB</text></g>
<g id="sig-YWHAB" transform="translate(759,622)"><use href="#hex"/><text>YWHAB</text></g>
<g id="sig-EIF4EBP1" transform="translate(664,648)"><use href="#hex"/><text>EIF4EBP1</text></g>
<g id="sig-SLC38A9" transform="translate(693,647)"><use href="#hex"/><text>SLC38A9</text></g>
<g id="sig-AKT1S1" transform="translate(726,653)"><use href="#hex"/><text>AKT1S1</text></g>
<g id="sig-MTOR" transform="translate(758,673)"><use href="#hex"/><text>MTOR</text></g>
<g id="sig-RPS6KB1" transform="translate(663,695)"><use href="#hex"/><text>RPS6KB1</text></g>
<g id="sig-EIF4E" transform="translate(693,701)"><use href="#hex"/><text>EIF4E</text></g>
<g id="sig-RRAGC" transform="translate(725,701)"><use href="#hex"/><text>RRAGC</text></g>
</g>

<g id="cluster-stress" class="nd">
<g id="st-BACH1" transform="translate(137,895)"><use href="#pgl"/><text>BACH1</text></g>
<g id="st-CREBBP" transform="translate(244,876)"><use href="#pgl"/><text>CREBBP</text></g>
<g id="st-MAFK" transform="translate(180,919)"><use href="#pgl"/><text>MAFK</text></g>
<g id="st-EP300" transform="translate(251,939)"><use href="#pgl"/><text>EP300</text></g>
<g id="st-ATF4" transform="translate(298,934)"><use href="#pgl"/><text>ATF4</text></g>
<g id="st-EIF2AK4" transform="translate(335,899)"><use href="#pgl"/><text>EIF2AK4</text></g>
<g id="st-DDIT3" transform="translate(382,915)"><use href="#pgl"/><text>DDIT3</text></g>
<g id="st-NFYA" transform="translate(398,838)"><use href="#pgl"/><text>NFYA</text></g>
<g id="st-NFYC" transform="translate(439,858)"><use href="#pgl"/><text>NFYC</text></g>
<g id="st-NFYB" transform="translate(433,909)"><use href="#pgl"/><text>NFYB</text></g>
<g id="st-ATF6" transform="translate(446,944)"><use href="#pgl"/><text>ATF6</text></g>
<g id="st-NFE2L2" transform="translate(203,992)"><use href="#pgl"/><text>NFE2L2</text></g>
<g id="st-CEBPG" transform="translate(305,975)"><use href="#pgl"/><text>CEBPG</text></g>
<g id="st-EIF2S2" transform="translate(348,957)"><use href="#pgl"/><text>EIF2S2</text></g>
<g id="st-EIF2S1" transform="translate(391,976)"><use href="#pgl"/><text>EIF2S1</text></g>
<g id="st-ATF3" transform="translate(277,1018)"><use href="#pgl"/><text>ATF3</text></g>
<g id="st-CEBPB" transform="translate(340,1011)"><use href="#pgl"/><text>CEBPB</text></g>
<g id="st-NFKB1" transform="translate(324,1066)"><use href="#pgl"/><text>NFKB1</text></g>
<g id="st-RELA" transform="translate(384,1054)"><use href="#pgl"/><text>RELA</text></g>
</g>

<g id="cluster-pol3" class="nd">
<g id="p3-POLR3G" transform="translate(746,785)"><use href="#tri"/><text>POLR3G</text></g>
<g id="p3-GTF3C1" transform="translate(692,806)"><use href="#tri"/><text>GTF3C1</text></g>
<g id="p3-POLR3B" transform="translate(658,827)"><use href="#tri"/><text>POLR3B</text></g>
<g id="p3-BDP1" transform="translate(769,829)"><use href="#tri"/><text>BDP1</text></g>
<g id="p3-POLR2F" transform="translate(546,866)"><use href="#tri"/><text>POLR2F</text></g>
<g id="p3-POLR3K" transform="translate(615,859)"><use href="#tri"/><text>POLR3K</text></g>
<g id="p3-POLR3F" transform="translate(651,874)"><use href="#tri"/><text>POLR3F</text></g>
<g id="p3-POLR3D" transform="translate(685,863)"><use href="#tri"/><text>POLR3D</text></g>
<g id="p3-CRCP" transform="translate(722,856)"><use href="#tri"/><text>CRCP</text></g>
<g id="p3-POLR3E" transform="translate(789,870)"><use href="#tri"/><text>POLR3E</text></g>
<g id="p3-GTF3C2" transform="translate(531,909)"><use href="#tri"/><text>GTF3C2</text></g>
<g id="p3-POLR2E" transform="translate(604,909)"><use href="#tri"/><text>POLR2E</text></g>
<g id="p3-GTF3C4" transform="translate(679,913)"><use href="#tri"/><text>GTF3C4</text></g>
<g id="p3-SNAPC3" transform="translate(749,898)"><use href="#tri"/><text>SNAPC3</text></g>
<g id="p3-POLR3H" transform="translate(794,918)"><use href="#tri"/><text>POLR3H</text></g>
<g id="p3-GTF3C3" transform="translate(529,951)"><use href="#tri"/><text>GTF3C3</text></g>
<g id="p3-POLR2H" transform="translate(639,937)"><use href="#tri"/><text>POLR2H</text></g>
<g id="p3-POLR3GL" transform="translate(729,946)"><use href="#tri"/><text>POLR3GL</text></g>
<g id="p3-SNAPC2" transform="translate(608,967)"><use href="#tri"/><text>SNAPC2</text></g>
<g id="p3-POLR2K" transform="translate(671,964)"><use href="#tri"/><text>POLR2K</text></g>
<g id="p3-SNAPC4" transform="translate(768,965)"><use href="#tri"/><text>SNAPC4</text></g>
<g id="p3-POLR3C" transform="translate(804,959)"><use href="#tri"/><text>POLR3C</text></g>
<g id="p3-GTF3C6" transform="translate(544,984)"><use href="#tri"/><text>GTF3C6</text></g>
<g id="p3-POLR1C" transform="translate(643,1011)"><use href="#tri"/><text>POLR1C</text></g>
<g id="p3-POLR3A" transform="translate(684,1003)"><use href="#tri"/><text>POLR3A</text></g>
<g id="p3-POLR1D" transform="translate(721,1003)"><use href="#tri"/><text>POLR1D</text></g>
<g id="p3-BRF1" transform="translate(799,1004)"><use href="#tri"/><text>BRF1</text></g>
<g id="p3-GTF3C5" transform="translate(556,1019)"><use href="#tri"/><text>GTF3C5</text></g>
<g id="p3-SNAPC1" transform="translate(759,1018)"><use href="#tri"/><text>SNAPC1</text></g>
<g id="p3-GTF3A" transform="translate(584,1062)"><use href="#tri"/><text>GTF3A</text></g>
<g id="p3-POLR2L" transform="translate(636,1050)"><use href="#tri"/><text>POLR2L</text></g>
<g id="p3-SNAPC5" transform="translate(693,1046)"><use href="#tri"/><text>SNAPC5</text></g>
<g id="p3-ZNF143" transform="translate(741,1062)"><use href="#tri"/><text>ZNF143</text></g>
<g id="p3-BRF2" transform="translate(779,1054)"><use href="#tri"/><text>BRF2</text></g>
<g id="p3-TBP" transform="translate(635,1088)"><use href="#tri"/><text>TBP</text></g>
<g id="p3-POLR2J" transform="translate(681,1083)"><use href="#tri"/><text>POLR2J</text></g>
</g>

<g id="cluster-cytokine" class="nd">
<g id="cy-MAPK3" transform="translate(232,1218)"><use href="#hex"/><text>MAPK3</text></g>
<g id="cy-MAPK10" transform="translate(297,1222)"><use href="#hex"/><text>MAPK10</text></g>
<g id="cy-ATF2" transform="translate(268,1238)"><use href="#hex"/><text>ATF2</text></g>
<g id="cy-MAPK9" transform="translate(298,1249)"><use href="#hex"/><text>MAPK9</text></g>
<g id="cy-STAT3" transform="translate(174,1263)"><use href="#hex"/><text>STAT3</text></g>
<g id="cy-FOS" transform="translate(216,1258)"><use href="#hex"/><text>FOS</text></g>
<g id="cy-MAPK1" transform="translate(243,1259)"><use href="#hex"/><text>MAPK1</text></g>
<g id="cy-JUN" transform="translate(264,1259)"><use href="#hex"/><text>JUN</text></g>
<g id="cy-MAPK14" transform="translate(297,1271)"><use href="#hex"/><text>MAPK14</text></g>
<g id="cy-IL1B" transform="translate(342,1247)"><use href="#pgc"/><text>IL1B</text></g>
<g id="cy-IRAK2" transform="translate(379,1268)"><use href="#pgc"/><text>IRAK2</text></g>
<g id="cy-PELI2" transform="translate(266,1288)"><use href="#pgc"/><text>PELI2</text></g>
<g id="cy-PELI3" transform="translate(292,1289)"><use href="#pgc"/><text>PELI3</text></g>
<g id="cy-IRAK4" transform="translate(319,1287)"><use href="#pgc"/><text>IRAK4</text></g>
<g id="cy-IRAK3" transform="translate(349,1296)"><use href="#pgc"/><text>IRAK3</text></g>
<g id="cy-IL1R1" transform="translate(378,1296)"><use href="#pgc"/><text>IL1R1</text></g>
<g id="cy-UBE2D3" transform="translate(187,1306)"><use href="#pgc"/><text>UBE2D3</text></g>
<g id="cy-TAB2" transform="translate(260,1312)"><use href="#pgc"/><text>TAB2</text></g>
<g id="cy-PELI1" transform="translate(279,1305)"><use href="#pgc"/><text>PELI1</text></g>
<g id="cy-UBE2V1" transform="translate(289,1317)"><use href="#pgc"/><text>UBE2V1</text></g>
<g id="cy-IRAK1" transform="translate(311,1313)"><use href="#pgc"/><text>IRAK1</text></g>
<g id="cy-IL1RN" transform="translate(347,1322)"><use href="#pgc"/><text>IL1RN</text></g>
<g id="cy-BIRC3" transform="translate(156,1327)"><use href="#pgc"/><text>BIRC3</text></g>
<g id="cy-UBE2N" transform="translate(237,1328)"><use href="#pgc"/><text>UBE2N</text></g>
<g id="cy-TRAF6" transform="translate(259,1332)"><use href="#pgc"/><text>TRAF6</text></g>
<g id="cy-TAB1" transform="translate(281,1333)"><use href="#pgc"/><text>TAB1</text></g>
<g id="cy-MAP3K7" transform="translate(300,1342)"><use href="#pgc"/><text>MAP3K7</text></g>
<g id="cy-TOLLIP" transform="translate(319,1335)"><use href="#pgc"/><text>TOLLIP</text></g>
<g id="cy-SQSTM1" transform="translate(375,1333)"><use href="#pgc"/><text>SQSTM1</text></g>
<g id="cy-NOD2" transform="translate(175,1359)"><use href="#pgc"/><text>NOD2</text></g>
<g id="cy-NFKBIA" transform="translate(207,1349)"><use href="#pgc"/><text>NFKBIA</text></g>
<g id="cy-TNIP2" transform="translate(191,1369)"><use href="#pgc"/><text>TNIP2</text></g>
<g id="cy-CHUK" transform="translate(257,1359)"><use href="#pgc"/><text>CHUK</text></g>
<g id="cy-MAP2K6" transform="translate(278,1362)"><use href="#pgc"/><text>MAP2K6</text></g>
<g id="cy-TAB3" transform="translate(311,1363)"><use href="#pgc"/><text>TAB3</text></g>
<g id="cy-IL1A" transform="translate(355,1363)"><use href="#pgc"/><text>IL1A</text></g>
</g>

<g id="cluster-rho" class="nd">
<g id="rho-ACTB" transform="translate(607,1191)"><use href="#chev"/><text>ACTB</text></g>
<g id="rho-RHOA" transform="translate(566,1242)"><use href="#chev"/><text>RHOA</text></g>
<g id="rho-PFN2" transform="translate(625,1249)"><use href="#chev"/><text>PFN2</text></g>
<g id="rho-EVL" transform="translate(475,1258)"><use href="#chev"/><text>EVL</text></g>
<g id="rho-PFN1" transform="translate(629,1308)"><use href="#chev"/><text>PFN1</text></g>
<g id="rho-RHOB" transform="translate(465,1328)"><use href="#chev"/><text>RHOB</text></g>
<g id="rho-DIAPH1" transform="translate(529,1344)"><use href="#chev"/><text>DIAPH1</text></g>
<g id="rho-ACTG1" transform="translate(596,1365)"><use href="#chev"/><text>ACTG1</text></g>
</g>

<g id="cluster-titles">
<text class="ttl" font-size="10" transform="translate(141,280) rotate(-90)">Interferon alpha/beta signaling</text>
<text class="ttl" font-size="11" transform="translate(148,513) rotate(-90)">Gluconeogenesis</text>
<text class="ttl" font-size="11" transform="translate(768.5,451) rotate(-90)">Termination of O-glycan biosynthesis</text>
<text class="ttl" font-size="11" transform="translate(97.5,666) rotate(-90)">Developmental Biology</text>
<text class="ttl" font-size="12" transform="translate(607.5,562) rotate(-90)">mRNA Capping</text>
<text class="ttl" font-size="13" transform="translate(799,641) rotate(-90)">Signaling Pathways</text>
<text class="ttl" font-size="9" transform="translate(96,916) rotate(-90)">Cellular responses to stress</text>
<text class="ttl" font-size="13" transform="translate(846,962) rotate(-90)">RNA Polymerase III Transcription Initiation</text>
<text class="ttl" font-size="10.5" transform="translate(678,1292) rotate(-90)">RHO GTPases Activate Formins</text>
<text class="ttl" font-size="7" dominant-baseline="central" transform="translate(152,1370) rotate(-130)">Cytokine Signaling in Immune system</text>
</g>

<g id="legend-fill">
<text class="ttl" font-size="36" transform="translate(34,1527) rotate(-90)">Legend</text>
<text class="ttl" font-size="13" transform="translate(60,1555) rotate(-90)">Node Fill Color</text>
<rect x="66" y="1457.7" width="338.3" height="139" fill="none" stroke="#c4c4c4" stroke-width="1"/>
<rect class="sw" x="72.3" y="1542.3" width="23.3" height="48.7" fill="#c7e9c0"/>
<rect class="sw" x="101.9" y="1542.3" width="23.3" height="48.7" fill="#08519c"/>
<rect class="sw" x="131.5" y="1542.3" width="23.3" height="48.7" fill="#54278f"/>
<rect class="sw" x="161.1" y="1542.3" width="23.3" height="48.7" fill="#f9c54c"/>
<rect class="sw" x="190.7" y="1542.3" width="23.3" height="48.7" fill="#8c2d04"/>
<rect class="sw" x="220.3" y="1542.3" width="23.3" height="48.7" fill="#f8c3c0"/>
<rect class="sw" x="249.9" y="1542.3" width="23.3" height="48.7" fill="#c8171c"/>
<rect class="sw" x="279.5" y="1542.3" width="23.3" height="48.7" fill="#ff7f00"/>
<rect class="sw" x="309.1" y="1542.3" width="23.3" height="48.7" fill="#c6d9ed"/>
<rect class="sw" x="338.7" y="1542.3" width="23.3" height="48.7" fill="#e32a87"/>
<rect class="sw" x="368.3" y="1542.3" width="23.3" height="48.7" fill="#005a32"/>
<text class="cl" transform="translate(88.3,1530) rotate(-90)">BRCA</text>
<text class="cl" transform="translate(117.9,1530) rotate(-90)">BRCA;UCEC</text>
<text class="cl" transform="translate(147.5,1530) rotate(-90)">BRCA;OV</text>
<text class="cl" transform="translate(177.1,1530) rotate(-90)">UCS</text>
<text class="cl" transform="translate(206.7,1530) rotate(-90)">UCEC;UCS</text>
<text class="cl" transform="translate(236.3,1530) rotate(-90)">OV</text>
<text class="cl" transform="translate(265.9,1530) rotate(-90)">BRCA;UCS</text>
<text class="cl" transform="translate(295.5,1530) rotate(-90)">UCEC</text>
<text class="cl" transform="translate(325.1,1530) rotate(-90)">CESC</text>
<text class="cl" transform="translate(354.7,1530) rotate(-90)">CESC;UCEC</text>
<text class="cl" transform="translate(384.3,1530) rotate(-90)">BRCA;CESC</text>
</g>

<g id="legend-shape">
<rect x="433.5" y="1438.5" width="600" height="300" fill="none" stroke="#c4c4c4" stroke-width="1"/>
<text font-size="13" xml:space="preserve" transform="translate(430,1613) rotate(-90)">Node Shape:  omics</text>
<polygon class="sh" points="455,1574 473,1558 473,1591 455,1607"/>
<polygon class="sh" points="501.7,1570 523.3,1584.3 501.7,1598.3 510,1584.3"/>
<polygon class="sh" points="536.7,1584.3 572.7,1559.3 572.7,1606.7"/>
<polygon class="sh" points="585,1555 627.3,1581 585,1606.7 606,1581"/>
<ellipse class="sh" cx="654.3" cy="1581.7" rx="21" ry="25"/>
<rect class="sh" x="678.3" y="1564.3" width="40.7" height="41.7"/>
<polygon class="sh" points="744.3,1564.3 761.7,1574.3 761.7,1595.7 744.3,1606 727,1595.7 727,1574.3"/>
<polygon class="sh" points="790,1564.3 810,1585 790,1606 770,1585"/>
<circle class="sh" cx="832.3" cy="1586.7" r="11.7"/>
<polygon class="sh" points="861.7,1578.3 901,1564 901,1592.3 861.7,1606"/>
<polygon class="sh" points="916.7,1585 930,1573.3 930,1596.7"/>
<text class="sl" transform="translate(470.3,1552) rotate(-90)">cnv-exp-met</text>
<text class="sl" transform="translate(515.5,1552) rotate(-90)">cnv-exp-mut</text>
<text class="sl" transform="translate(562,1552) rotate(-90)">cnv-exp-met-mut</text>
<text class="sl" transform="translate(606.3,1552) rotate(-90)">exp-met</text>
<text class="sl" transform="translate(652,1552) rotate(-90)">exp-mut</text>
<text class="sl" transform="translate(698.8,1552) rotate(-90)">cnv-met</text>
<text class="sl" transform="translate(743.8,1552) rotate(-90)">cnv-exp</text>
<text class="sl" transform="translate(789.7,1552) rotate(-90)">cnv</text>
<text class="sl" transform="translate(834.2,1552) rotate(-90)">exp</text>
<text class="sl" transform="translate(880.5,1552) rotate(-90)">exp-met-mut</text>
<text class="sl" transform="translate(925.5,1552) rotate(-90)">met</text>
</g>
</svg>
